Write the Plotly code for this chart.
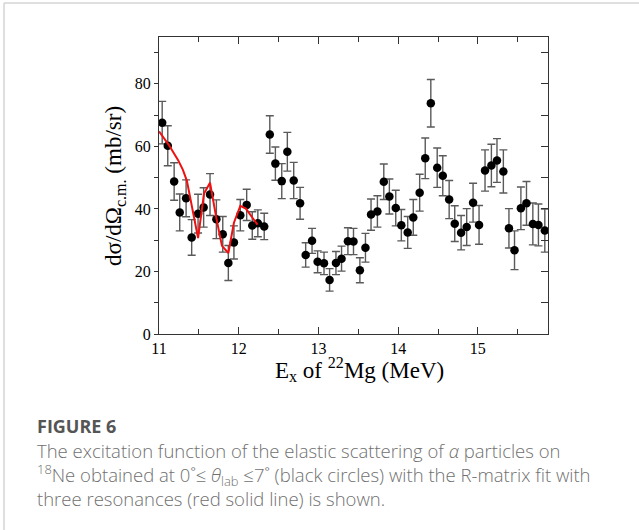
import plotly.graph_objects as go

# ---- data ----
energy = [11.04, 11.11, 11.19, 11.26, 11.34, 11.41, 11.49, 11.56, 11.64, 11.72,
          11.80, 11.87, 11.94, 12.02, 12.10, 12.17, 12.24, 12.32, 12.39, 12.46,
          12.54, 12.61, 12.69, 12.77, 12.84, 12.92, 12.99, 13.07, 13.14, 13.22,
          13.29, 13.37, 13.44, 13.52, 13.59, 13.66, 13.74, 13.82, 13.89, 13.97,
          14.04, 14.12, 14.19, 14.27, 14.34, 14.41, 14.49, 14.56, 14.64, 14.71,
          14.79, 14.86, 14.94, 15.015, 15.09, 15.17, 15.24, 15.32, 15.39, 15.46,
          15.54, 15.61, 15.69, 15.76, 15.84]
xsec = [67.6, 60.2, 48.8, 38.9, 43.4, 30.9, 38.5, 40.5, 44.6, 36.7,
        31.9, 22.7, 29.3, 38.0, 41.3, 34.7, 35.4, 34.4, 63.8, 54.5,
        48.9, 58.3, 49.1, 41.8, 25.3, 29.8, 23.1, 22.6, 17.3, 22.7,
        24.1, 29.7, 29.6, 20.4, 27.6, 38.2, 39.2, 48.7, 44.0, 40.3,
        34.8, 32.5, 37.3, 45.2, 56.2, 73.8, 53.2, 50.6, 43.0, 35.3,
        32.4, 34.2, 42.0, 34.9, 52.3, 53.9, 55.5, 52.0, 33.8, 26.8,
        40.2, 41.8, 35.2, 34.9, 33.1]
xsec_err = [6.8, 6.4, 6.0, 5.9, 5.9, 5.7, 6.2, 6.3, 6.7, 6.2,
            5.7, 5.6, 5.3, 5.0, 5.0, 4.4, 4.3, 4.2, 6.0, 5.3,
            5.6, 6.2, 5.8, 5.1, 3.9, 4.0, 3.5, 3.6, 3.6, 3.7,
            4.0, 4.3, 4.2, 4.0, 4.6, 5.0, 5.0, 5.7, 5.6, 5.7,
            5.0, 5.1, 5.7, 5.9, 6.5, 7.6, 6.3, 6.4, 6.1, 5.7,
            5.5, 5.9, 6.2, 6.2, 6.6, 6.8, 7.0, 6.9, 6.3, 6.2,
            6.8, 7.0, 6.7, 6.7, 6.9]

fit_energy = [11.00, 11.12, 11.24, 11.30, 11.35, 11.42, 11.49, 11.565, 11.64,
              11.72, 11.79, 11.87, 11.94, 12.02, 12.09, 12.235]
fit_xsec = [64.8, 60.6, 55.6, 52.5, 49.0, 40.0, 30.7, 44.9, 48.4,
            37.0, 28.2, 25.9, 35.6, 41.0, 40.1, 35.0]

x_ticks = [11, 12, 13, 14, 15]
y_ticks = [0, 20, 40, 60, 80]

# ---- geometry (pixels) ----
W, H = 639, 530
L, R, T, B = 159, 91, 37, 196
PW, PH = W - L - R, H - T - B


def px(xp):
    return (xp - L) / PW


def py(yp):
    return (H - B - yp) / PH


serif = "Liberation Serif, Times New Roman, serif"
sans = "Open Sans, Noto Sans, sans-serif"

fig = go.Figure()
fig.add_trace(go.Scatter(
    x=energy, y=xsec, mode="markers",
    marker=dict(color="black", size=8.5),
    error_y=dict(type="data", array=xsec_err, visible=True,
                 color="#5a5a5a", thickness=1.4, width=4),
    showlegend=False, hoverinfo="x+y"))
fig.add_trace(go.Scatter(
    x=fit_energy, y=fit_xsec, mode="lines",
    line=dict(color="#ee1111", width=2),
    showlegend=False))
fig.add_trace(go.Scatter(x=[], y=[], yaxis="y2", showlegend=False))

fig.update_layout(
    width=W, height=H,
    margin=dict(l=L, r=R, t=T, b=B, pad=0),
    paper_bgcolor="white", plot_bgcolor="white",
    xaxis=dict(range=[11, 15.88], tickvals=x_ticks,
               ticktext=[str(v) for v in x_ticks],
               ticks="inside", ticklen=7, tickwidth=1, tickcolor="#333",
               minor=dict(dtick=0.5, tick0=11, ticks="inside", ticklen=5,
                          tickcolor="#333"),
               mirror="ticks", showline=True, linecolor="#333", linewidth=1.3,
               showgrid=False, zeroline=False,
               tickfont=dict(family=serif, size=16, color="black")),
    yaxis=dict(range=[0, 95], tickvals=y_ticks,
               ticktext=[str(v) for v in y_ticks],
               ticks="outside", ticklen=4, tickwidth=1, tickcolor="#333",
               minor=dict(dtick=10, tick0=0, ticks="outside", ticklen=4,
                          tickcolor="#333"),
               mirror=True, showline=True, linecolor="#333", linewidth=1.3,
               showgrid=False, zeroline=False,
               tickfont=dict(family=serif, size=16, color="black")),
    yaxis2=dict(range=[0, 95], overlaying="y", side="right",
                dtick=10, tick0=0, ticks="inside", ticklen=7, tickwidth=1,
                tickcolor="#333", showticklabels=False, showline=False,
                showgrid=False, zeroline=False),
)

# outer page frame (top and left light lines)
fig.add_shape(type="line", xref="paper", yref="paper",
              x0=px(4), x1=px(W + 5), y0=py(3), y1=py(3),
              line=dict(color="#d4d4d4", width=1.5))
fig.add_shape(type="line", xref="paper", yref="paper",
              x0=px(4), x1=px(4), y0=py(3), y1=py(H + 5),
              line=dict(color="#d4d4d4", width=1.5))

# axis titles
fig.add_annotation(xref="paper", yref="paper", x=px(115), y=py(186),
                   text="dσ/dΩ<sub>c.m.</sub> (mb/sr)", textangle=-90,
                   showarrow=False, xanchor="center", yanchor="middle",
                   font=dict(family=serif, size=23, color="black"))
fig.add_annotation(xref="paper", yref="paper", x=px(359), y=py(370),
                   text="E<sub>x</sub> of <sup>22</sup>Mg (MeV)",
                   showarrow=False, xanchor="center", yanchor="middle",
                   font=dict(family=serif, size=23, color="black"))

# caption
fig.add_annotation(xref="paper", yref="paper", x=px(35), y=py(426),
                   text="<b>FIGURE 6</b>", showarrow=False,
                   xanchor="left", yanchor="middle",
                   font=dict(family=sans, size=18, color="#555555"))
caption = [
    "The excitation function of the elastic scattering of <i>α</i> particles on",
    "<sup>18</sup>Ne obtained at 0˚≤ <i>θ</i><sub>lab</sub> ≤7˚ (black circles) with the R-matrix fit with",
    "three resonances (red solid line) is shown.",
]
fig.add_annotation(xref="paper", yref="paper", x=px(35), y=py(474),
                   text="<br>".join(caption), showarrow=False, align="left",
                   xanchor="left", yanchor="middle",
                   font=dict(family=sans, size=18.5, color="#707070",
                             weight=300))

fig.write_html("out.html")
